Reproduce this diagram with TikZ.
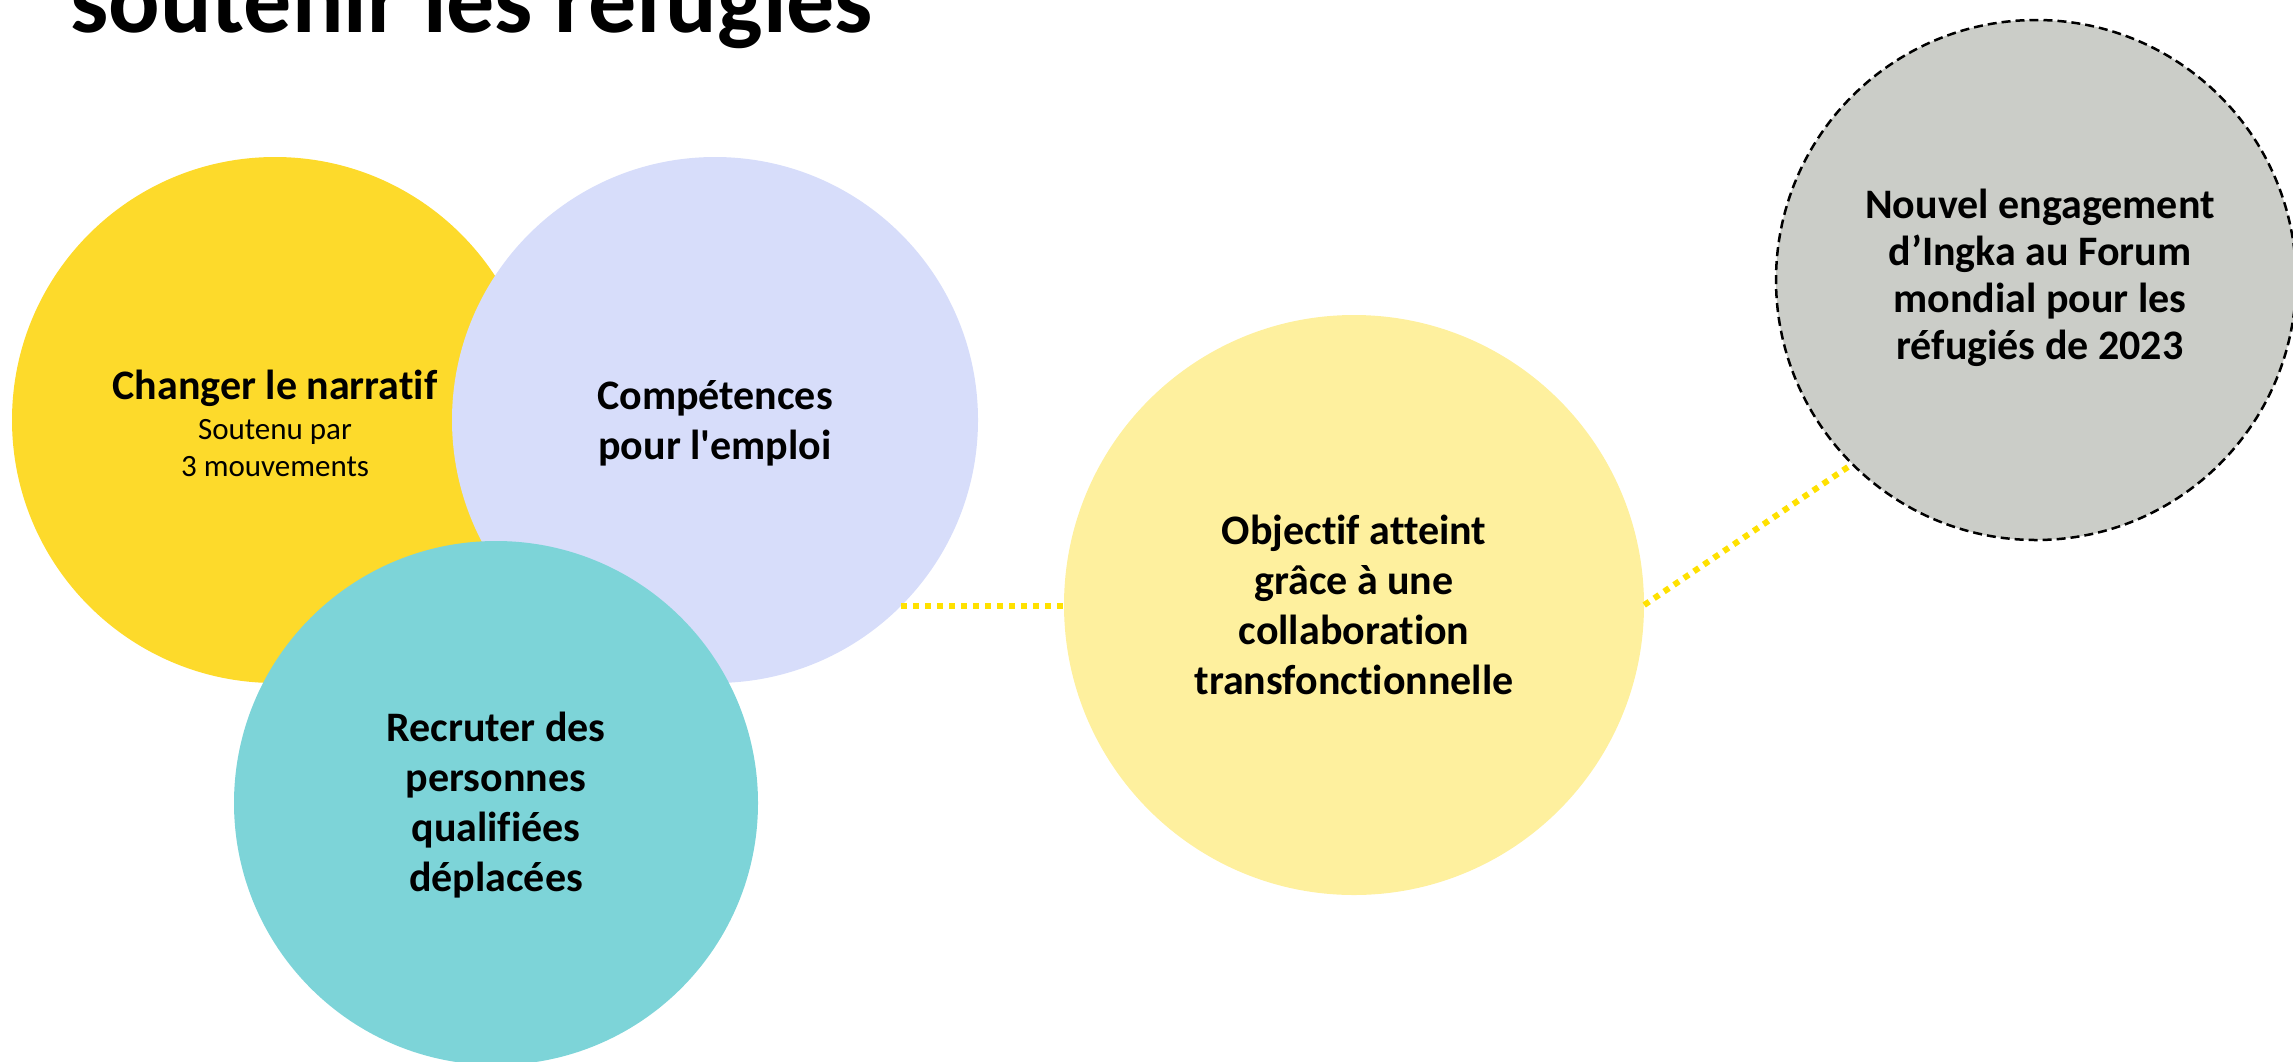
\documentclass[tikz,border=0pt]{standalone}
\usepackage{fontspec}
\newfontfamily\carlitofont{Carlito}[Ligatures=NoCommon]
\definecolor{cyellow}{HTML}{FDDA2B}
\definecolor{clav}{HTML}{D7DDFA}
\definecolor{cteal}{HTML}{7DD4D8}
\definecolor{cpale}{HTML}{FEF09E}
\definecolor{cgrey}{HTML}{CBCDC8}
\definecolor{cdot}{HTML}{FFE100}
\begin{document}
\begin{tikzpicture}[x=1pt,y=-1pt,
  disc/.style={circle,inner sep=0pt,draw=none},
  lbl/.style={align=center,font=\carlitofont\fontsize{42}{50}\selectfont\bfseries,inner sep=0pt},
  sublbl/.style={font=\carlitofont\fontsize{31}{37}\selectfont,inner sep=0pt,anchor=base},
  dotline/.style={draw=cdot,line width=6pt,dash pattern=on 6pt off 6pt}]
\useasboundingbox (0,0) rectangle (2293,1061);
\node[disc,fill=cyellow,minimum size=526pt] (yel) at (275,420) {};
\node[disc,fill=clav,minimum size=526pt] (lav) at (715,420) {};
\node[disc,fill=cteal,minimum size=524pt] (teal) at (496,803) {};
\node[disc,fill=cpale,minimum size=580pt] (obj) at (1354,605) {};
\node[disc,fill=cgrey,draw=black,line width=2.5pt,dash pattern=on 9pt off 5pt,minimum size=520pt] (grey) at (2036,280) {};
\draw[dotline] (lav.-45) -- (lav.-45 -| obj.west);
\draw[dotline] (obj.east) -- (grey.225);
\node[anchor=base west,inner sep=0pt,font=\carlitofont\fontsize{96}{110}\selectfont\bfseries] (title) at (70,32) {soutenir les réfugiés};
\node[lbl,anchor=base] (t1) at (275,399) {Changer le narratif};
\node[sublbl] (t1b) at (275,439) {Soutenu par};
\node[sublbl] (t1c) at (275,476) {3 mouvements};
\node[lbl] (t2) at (715,423) {Compétences\\pour l'emploi};
\node[lbl] (t3) at (496,805) {Recruter des\\personnes\\qualifiées\\déplacées};
\node[lbl] (t4) at (1354,605) {Objectif atteint\\grâce à une\\collaboration\\transfonctionnelle};
\node[lbl,font=\carlitofont\fontsize{42}{47}\selectfont\bfseries] (t5) at (2040,278) {Nouvel engagement\\d’Ingka au Forum\\mondial pour les\\réfugiés de 2023};
\end{tikzpicture}
\end{document}
